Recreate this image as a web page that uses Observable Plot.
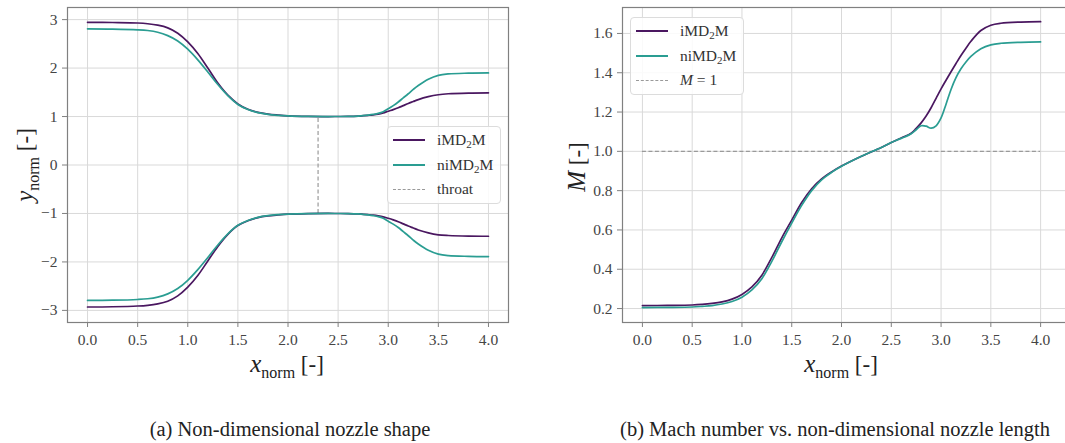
<!DOCTYPE html>
<html><head><meta charset="utf-8">
<script src="https://cdn.jsdelivr.net/npm/d3@7"></script>
<script src="https://cdn.jsdelivr.net/npm/@observablehq/plot@0.6"></script>
<style>
body{margin:0;background:#fff;}
#wrap{position:relative;width:1065px;height:443px;overflow:hidden;font-family:'Liberation Serif','Times New Roman','DejaVu Serif',serif;color:#222;}
.panel{position:absolute;top:0;}
.panel text{font-family:'Liberation Serif','Times New Roman','DejaVu Serif',serif !important;}
.abs{position:absolute;white-space:nowrap;}
.axlbl{font-size:23px;color:#222;transform:translate(-50%,-50%);}
.axlbl.rot{transform:translate(-50%,-50%) rotate(-90deg);}
.it{font-style:italic;font-size:25px;}
.sb{font-size:16px;position:relative;top:6px;}
.legbox{border:1px solid #dcdcdc;border-radius:4px;background:rgba(255,255,255,0.85);}
.legline{height:0;}
.legtxt{font-size:15.5px;color:#333;transform:translateY(-50%);}
.legtxt sub{font-size:11px;vertical-align:baseline;position:relative;top:3px;}
.cap{font-size:20.5px;color:#222;transform:translateX(-50%);}
</style></head>
<body><div id="wrap"></div>
<script>
// ---------------- data ----------------
const xNorm = [0, 0.25, 0.5, 0.6, 0.7, 0.8, 0.9, 1.0, 1.1, 1.2, 1.3, 1.4, 1.5, 1.6, 1.7, 1.8, 1.9, 2.0, 2.2, 2.4, 2.5, 2.6, 2.7, 2.75, 2.8, 2.85, 2.9, 2.95, 3.0, 3.05, 3.1, 3.15, 3.2, 3.25, 3.3, 3.4, 3.5, 3.6, 3.8, 4.0];

const upperI  = [2.945, 2.94, 2.93, 2.915, 2.885, 2.83, 2.72, 2.54, 2.30, 2.00, 1.69, 1.44, 1.26, 1.15, 1.085, 1.05, 1.03, 1.015, 1.003, 1.0, 1.001, 1.003, 1.01, 1.017, 1.025, 1.035, 1.05, 1.075, 1.11, 1.143, 1.18, 1.225, 1.27, 1.31, 1.35, 1.41, 1.45, 1.47, 1.485, 1.49];
const upperNI = [2.81, 2.805, 2.79, 2.775, 2.74, 2.67, 2.56, 2.39, 2.17, 1.92, 1.66, 1.43, 1.25, 1.145, 1.08, 1.045, 1.025, 1.012, 1.002, 1.0, 1.001, 1.003, 1.01, 1.018, 1.03, 1.045, 1.065, 1.10, 1.16, 1.225, 1.30, 1.385, 1.47, 1.56, 1.64, 1.77, 1.85, 1.88, 1.895, 1.90];
const lowerI  = [-2.93, -2.925, -2.91, -2.895, -2.865, -2.81, -2.70, -2.52, -2.28, -1.98, -1.68, -1.43, -1.25, -1.15, -1.085, -1.05, -1.03, -1.015, -1.003, -1.0, -1.001, -1.003, -1.01, -1.017, -1.025, -1.035, -1.05, -1.07, -1.10, -1.133, -1.17, -1.215, -1.26, -1.30, -1.34, -1.40, -1.44, -1.455, -1.467, -1.47];
const lowerNI = [-2.795, -2.79, -2.775, -2.76, -2.725, -2.66, -2.55, -2.38, -2.16, -1.91, -1.65, -1.42, -1.245, -1.145, -1.08, -1.045, -1.025, -1.012, -1.002, -1.0, -1.001, -1.003, -1.01, -1.018, -1.03, -1.045, -1.065, -1.10, -1.16, -1.22, -1.29, -1.375, -1.46, -1.55, -1.63, -1.76, -1.84, -1.87, -1.885, -1.89];

const machI  = [0.215, 0.216, 0.218, 0.221, 0.226, 0.234, 0.248, 0.272, 0.31, 0.37, 0.46, 0.56, 0.65, 0.74, 0.81, 0.86, 0.895, 0.925, 0.975, 1.02, 1.045, 1.068, 1.092, 1.117, 1.145, 1.18, 1.222, 1.27, 1.318, 1.362, 1.405, 1.447, 1.488, 1.525, 1.56, 1.615, 1.642, 1.652, 1.658, 1.66];
const machNI = [0.205, 0.206, 0.208, 0.211, 0.215, 0.223, 0.236, 0.258, 0.295, 0.352, 0.44, 0.54, 0.635, 0.725, 0.80, 0.855, 0.893, 0.924, 0.975, 1.02, 1.045, 1.066, 1.09, 1.11, 1.13, 1.128, 1.118, 1.13, 1.17, 1.24, 1.315, 1.375, 1.42, 1.455, 1.483, 1.522, 1.542, 1.55, 1.555, 1.557];

const xTicks = [0, 0.5, 1, 1.5, 2, 2.5, 3, 3.5, 4];
const yTicksShape = [-3, -2, -1, 0, 1, 2, 3];
const yTicksMach = [0.2, 0.4, 0.6, 0.8, 1.0, 1.2, 1.4, 1.6];
const throat = [{x: 2.3, y1: -1, y2: 1}];
const sonic = [{y: 1, x1: 0, x2: 4}];
const seriesNames = ["iMD2M", "niMD2M"];

// ---------------- style ----------------
const purple = "#4a1760";
const teal = "#2a9d92";
const gridC = "#d9d9d9";
const frameC = "#808080";
const dashC = "#9a9a9a";
const fmtMinus = d => d < 0 ? "\u2212" + Math.abs(d) : String(d);
const rows = arr => xNorm.map((x, i) => ({x, y: arr[i]}));
const curve = "catmull-rom";
const serifFam = "'Liberation Serif', 'Times New Roman', 'DejaVu Serif', serif";

const wrap = document.getElementById("wrap");
const common = {
  style: {fontFamily: serifFam, fontSize: "15.5px", color: "#444", background: "transparent", overflow: "visible"}
};

const left = Plot.plot({
  ...common,
  width: 530, height: 400,
  marginLeft: 67, marginRight: 22, marginTop: 7, marginBottom: 78,
  x: {domain: [-0.2, 4.2]},
  y: {domain: [-3.25, 3.25]},
  marks: [
    Plot.gridX(xTicks, {stroke: gridC, strokeOpacity: 1, strokeWidth: 1}),
    Plot.gridY(yTicksShape, {stroke: gridC, strokeOpacity: 1, strokeWidth: 1}),
    Plot.axisX(xTicks, {tickSize: 5, tickPadding: 6, tickFormat: d => d.toFixed(1), label: null, stroke: frameC, fontFamily: serifFam}),
    Plot.axisY(yTicksShape, {tickSize: 5, tickPadding: 5, tickFormat: fmtMinus, label: null, stroke: frameC, fontFamily: serifFam}),
    Plot.ruleX(throat, {x: "x", y1: "y1", y2: "y2", stroke: dashC, strokeWidth: 1.2, strokeDasharray: "4,2.5"}),
    Plot.line(rows(upperI), {x: "x", y: "y", stroke: purple, strokeWidth: 1.7, curve}),
    Plot.line(rows(lowerI), {x: "x", y: "y", stroke: purple, strokeWidth: 1.7, curve}),
    Plot.line(rows(upperNI), {x: "x", y: "y", stroke: teal, strokeWidth: 1.7, curve}),
    Plot.line(rows(lowerNI), {x: "x", y: "y", stroke: teal, strokeWidth: 1.7, curve}),
    Plot.frame({stroke: frameC, strokeWidth: 1.2})
  ]
});
left.classList.add("panel");
left.style.left = "0px";
wrap.appendChild(left);

const right = Plot.plot({
  ...common,
  width: 540, height: 400,
  marginLeft: 92, marginRight: 4, marginTop: 7, marginBottom: 78,
  x: {domain: [-0.2, 4.26]},
  y: {domain: [0.129, 1.732]},
  marks: [
    Plot.gridX(xTicks, {stroke: gridC, strokeOpacity: 1, strokeWidth: 1}),
    Plot.gridY(yTicksMach, {stroke: gridC, strokeOpacity: 1, strokeWidth: 1}),
    Plot.axisX(xTicks, {tickSize: 5, tickPadding: 6, tickFormat: d => d.toFixed(1), label: null, stroke: frameC, fontFamily: serifFam}),
    Plot.axisY(yTicksMach, {tickSize: 5, tickPadding: 5, tickFormat: d => d.toFixed(1), label: null, stroke: frameC, fontFamily: serifFam}),
    Plot.ruleY(sonic, {y: "y", x1: "x1", x2: "x2", stroke: dashC, strokeWidth: 1.2, strokeDasharray: "4,2.5"}),
    Plot.line(rows(machI), {x: "x", y: "y", stroke: purple, strokeWidth: 1.7, curve}),
    Plot.line(rows(machNI), {x: "x", y: "y", stroke: teal, strokeWidth: 1.7, curve}),
    Plot.frame({stroke: frameC, strokeWidth: 1.2})
  ]
});
right.classList.add("panel");
right.style.left = "530px";
wrap.appendChild(right);

// ---------------- text overlays ----------------
function add(html, cls, x, y) {
  const d = document.createElement("div");
  d.className = "abs " + cls;
  d.style.left = x + "px";
  d.style.top = y + "px";
  d.innerHTML = html;
  wrap.appendChild(d);
  return d;
}
const fmtName = s => s.replace("D2M", "D<sub>2</sub>M");

// axis labels
add('<span class="it">x</span><span class="sb">norm</span> [-]', "axlbl", 287, 364);
add('<span class="it">y</span><span class="sb">norm</span> [-]', "axlbl rot", 25, 165);
add('<span class="it">x</span><span class="sb">norm</span> [-]', "axlbl", 841, 364);
add('<span class="it">M</span> [-]', "axlbl rot", 577, 167);

// legends
function legend(x0, y0, w, h, entries) {
  const b = add("", "legbox", x0, y0);
  b.style.width = w + "px"; b.style.height = h + "px";
  entries.forEach((e, i) => {
    const ly = y0 + 14 + i * 24.5;
    const l = add("", "legline", x0 + 6, ly);
    l.style.width = "32px";
    l.style.borderTop = e.dash ? `1.3px dashed ${dashC}` : `2px solid ${e.color}`;
    l.style.marginTop = e.dash ? "0px" : "-1px";
    add(e.label, "legtxt", x0 + 50, ly);
  });
}
legend(387, 126, 112, 76, [
  {label: fmtName(seriesNames[0]), color: purple},
  {label: fmtName(seriesNames[1]), color: teal},
  {label: "throat", dash: true}
]);
legend(630, 17, 112, 76, [
  {label: fmtName(seriesNames[0]), color: purple},
  {label: fmtName(seriesNames[1]), color: teal},
  {label: '<i>M</i> = 1', dash: true}
]);

// captions
add("(a) Non-dimensional nozzle shape", "cap", 290, 418);
add("(b) Mach number vs. non-dimensional nozzle length", "cap", 835, 418);
</script>
</body></html>
